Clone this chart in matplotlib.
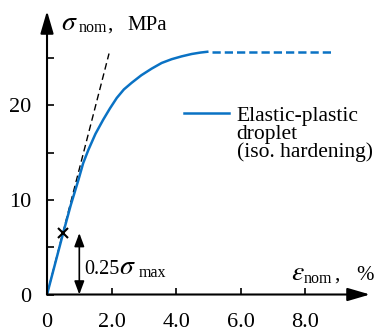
import matplotlib
matplotlib.use('Agg')
import matplotlib.pyplot as plt

# curve (strain in %, stress in MPa)
strain = [0, 0.5, 0.73, 0.97, 1.12, 1.28, 1.5, 1.74, 1.95, 2.16, 2.38, 2.62,
          2.92, 3.24, 3.55, 3.86, 4.17, 4.48, 4.75, 5.0]
stress = [0, 6.5, 9.4, 12.1, 13.9, 15.3, 17.0, 18.5, 19.7, 20.8, 21.7, 22.4,
          23.2, 23.9, 24.5, 24.9, 25.2, 25.45, 25.6, 25.7]
plateau_strain = [5.1, 8.9]
plateau_stress = [25.7, 25.7]
elastic_strain = [0, 1.92]
elastic_stress = [0, 25.5]
sigma_max = 26.0
mark_strain = 0.5
arrow_strain = 1.0

xticks = [0, 2, 4, 6, 8]
xticklabels = ['0', '2.0', '4.0', '6.0', '8.0']
yticks = [0, 5, 10, 15, 20, 25]
yticklabels = ['0', '', '10', '', '20', '']

plt.rcParams['font.family'] = ['Liberation Serif', 'DejaVu Serif']
plt.rcParams['mathtext.fontset'] = 'stix'
plt.rcParams['font.size'] = 15

blue = '#0a72c4'
greek = 20
sub = 11.5

fig = plt.figure(figsize=(3.74, 3.33), dpi=100)
ax = fig.add_axes([0.1257, 0.1156, 0.8636, 0.8514])
ax.set_xlim(0, 10)
ax.set_ylim(0, 30)
for s in ax.spines.values():
    s.set_visible(False)

# axes as arrows
ap = dict(arrowstyle='-|>,head_length=1.37,head_width=0.4', color='black',
          lw=1.5, shrinkA=0, shrinkB=0, mutation_scale=10)
ax.annotate('', xy=(1.0, 0), xytext=(0, 0), xycoords='axes fraction',
            textcoords='axes fraction', arrowprops=ap, annotation_clip=False)
ax.annotate('', xy=(0, 1.0), xytext=(0, 0), xycoords='axes fraction',
            textcoords='axes fraction', arrowprops=ap, annotation_clip=False)

ax.set_xticks(xticks)
ax.set_xticklabels(xticklabels)
ax.set_yticks(yticks)
ax.set_yticklabels(yticklabels)
ax.tick_params(direction='in', length=5, width=1.2, labelsize=16)
ax.tick_params(axis='x', pad=13)
ax.tick_params(axis='y', pad=11)

# elastic slope
ax.plot(elastic_strain, elastic_stress, color='black', lw=1.0,
        dashes=(4.8, 2.8), clip_on=False)
# droplet curve
ax.plot(strain, stress, color=blue, lw=1.8, solid_capstyle='butt',
        solid_joinstyle='round', clip_on=False)
ax.plot(plateau_strain, plateau_stress, color=blue, lw=1.8,
        dashes=(3.3, 1.6), clip_on=False)

# 0.25 sigma_max marker and arrow
ax.plot([mark_strain], [0.25 * sigma_max], marker='x', color='black',
        ms=7, mew=1.5, clip_on=False)
ax.annotate('', xy=(arrow_strain, 0.25 * sigma_max), xytext=(arrow_strain, 0),
            arrowprops=dict(arrowstyle='<|-|>,head_length=0.8,head_width=0.3',
                            color='black', lw=1.2, shrinkA=0, shrinkB=0,
                            mutation_scale=10))
ax.text(1.15, 2.17, '0.25', fontsize=14.5, ha='left', va='baseline')
ax.text(2.24, 2.17, r'$\sigma$', fontsize=greek, ha='left', va='baseline')
ax.text(2.84, 1.9, 'max', fontsize=sub, ha='left', va='baseline')

# axis labels
ax.text(0.43, 27.99, r'$\sigma$', fontsize=greek, ha='left', va='baseline')
ax.text(0.98, 27.8, 'nom', fontsize=sub, ha='left', va='baseline')
ax.text(1.86, 27.99, ',', ha='left', va='baseline')
ax.text(2.48, 27.99, 'MPa', ha='left', va='baseline')

ax.text(7.55, 1.53, r'$\varepsilon$', fontsize=greek, ha='left', va='baseline')
ax.text(7.96, 1.22, 'nom', fontsize=sub, ha='left', va='baseline')
ax.text(8.9, 1.53, ',', ha='left', va='baseline')
ax.text(9.56, 1.53, '%', ha='left', va='baseline')

# legend
ax.plot([4.24, 5.63], [19.2, 19.2], color=blue, lw=1.8)
ax.text(5.87, 19.8, 'Elastic-plastic\ndroplet\n(iso. hardening)',
        fontsize=15.5, ha='left', va='top', linespacing=0.9)

fig.savefig('out.png', dpi=100)
